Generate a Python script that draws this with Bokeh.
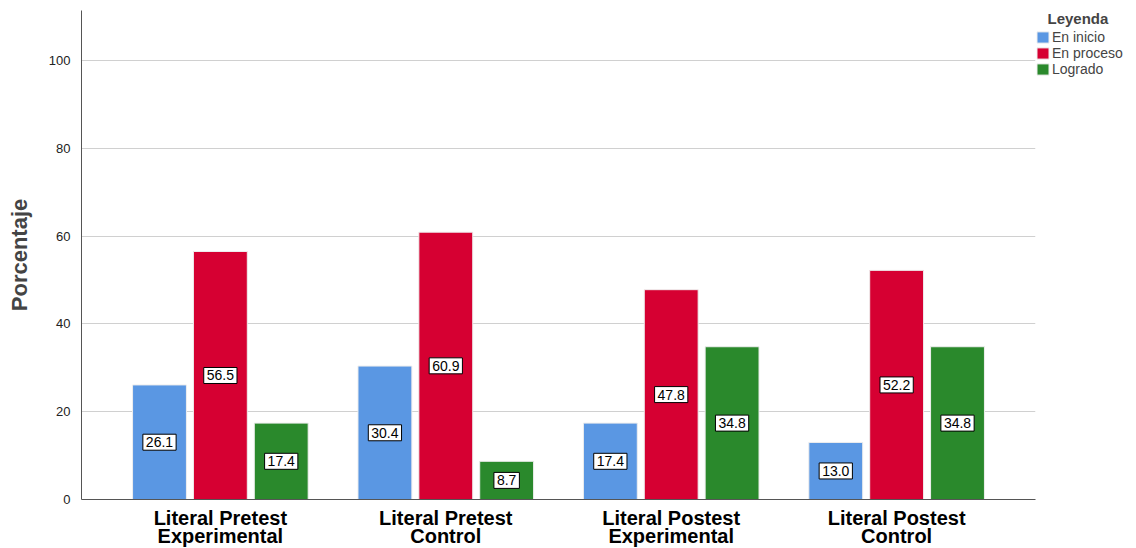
from bokeh.plotting import figure
from bokeh.models import ColumnDataSource, Legend, LegendItem, Range1d, FixedTicker
from bokeh.core.properties import value
from bokeh.embed import file_html
from bokeh.resources import INLINE

groups = ["Literal Pretest\nExperimental", "Literal Pretest\nControl",
          "Literal Postest\nExperimental", "Literal Postest\nControl"]
series = ["En inicio", "En proceso", "Logrado"]
en_inicio = [26.1, 30.4, 17.4, 13.0]
en_proceso = [56.5, 60.9, 47.8, 52.2]
logrado = [17.4, 8.7, 34.8, 34.8]
colors = ["#5a97e3", "#d60032", "#2a892c"]
y_ticks = [0, 20, 40, 60, 80, 100]

p = figure(frame_width=954, frame_height=489, output_backend="svg", toolbar_location=None,
           x_range=Range1d(-0.616, 3.616), y_range=Range1d(0, 111.4),
           min_border_left=81, min_border_top=10, min_border_bottom=49, min_border_right=0)
p.outline_line_color = None
p.background_fill_color = "white"

offsets = [-0.27, 0.0, 0.27]
width = 0.239
items = []
for vals, off, col, name in zip([en_inicio, en_proceso, logrado], offsets, colors, series):
    xs = [i + off for i in range(len(groups))]
    src = ColumnDataSource(dict(x=xs, top=vals, mid=[v / 2 for v in vals],
                                txt=["%.1f" % v for v in vals]))
    r = p.vbar(x="x", top="top", width=width, source=src, fill_color=col,
               line_color="#eeeeee", line_width=1)
    items.append(LegendItem(label=name, renderers=[r]))
    p.text(x="x", y="mid", text="txt", source=src, text_align="center",
           text_baseline="middle", text_font=value("Liberation Sans"), text_font_size="14px",
           text_color="black", background_fill_color="white",
           border_line_color="black", border_line_width=1, padding=3)

p.xaxis.ticker = FixedTicker(ticks=[0, 1, 2, 3])
p.xaxis.major_label_overrides = {i: g for i, g in enumerate(groups)}
p.xaxis.major_label_text_font = "Liberation Sans"
p.xaxis.major_label_text_font_size = "20px"
p.xaxis.major_label_text_font_style = "bold"
p.xaxis.major_label_text_color = "black"
p.xaxis.major_label_text_line_height = 0.85
p.xaxis.major_tick_line_color = None
p.xaxis.major_tick_out = 0
p.xaxis.minor_tick_line_color = None
p.xaxis.axis_line_color = "#555555"
p.xaxis.major_label_standoff = 7

p.yaxis.ticker = FixedTicker(ticks=y_ticks)
p.yaxis.major_label_text_font = "Liberation Sans"
p.yaxis.major_label_text_font_size = "13px"
p.yaxis.major_label_text_color = "#222222"
p.yaxis.major_tick_line_color = None
p.yaxis.major_tick_out = 0
p.yaxis.minor_tick_line_color = None
p.yaxis.axis_line_color = "#555555"
p.yaxis.major_label_standoff = 11
p.yaxis.axis_label = "Porcentaje"
p.yaxis.axis_label_text_font = "Liberation Sans"
p.yaxis.axis_label_text_font_size = "22px"
p.yaxis.axis_label_text_font_style = "bold"
p.yaxis.axis_label_standoff = 14

p.xgrid.grid_line_color = None
p.ygrid.grid_line_color = "#d0d0d0"
p.ygrid.grid_line_width = 1

legend = Legend(items=items, location="top_left", title="\u00a0\u00a0\u00a0Leyenda",
                title_text_font="Liberation Sans", title_text_font_size="15px",
                title_text_font_style="bold", label_text_font="Liberation Sans",
                label_text_font_size="14px", glyph_width=15, glyph_height=14,
                label_height=14, spacing=-1, padding=3, margin=0, title_standoff=2,
                border_line_color=None, background_fill_alpha=0, label_standoff=2)
p.add_layout(legend, "right")

open("out.html", "w").write(file_html(p, INLINE))
